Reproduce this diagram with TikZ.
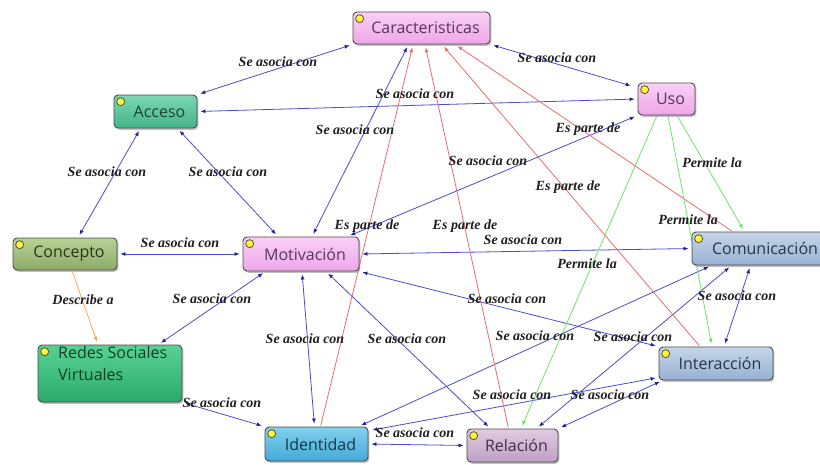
\documentclass[tikz,border=0pt]{standalone}
\usepackage{fontspec}
\setmainfont{Liberation Serif}
\newfontfamily\nodefont{Open Sans}
\usetikzlibrary{arrows.meta,shadows}
\definecolor{lblue}{RGB}{76,76,210}
\definecolor{ablue}{RGB}{35,35,150}
\definecolor{lred}{RGB}{232,110,110}
\definecolor{lgreen}{RGB}{110,228,110}
\definecolor{lorange}{RGB}{242,170,90}
\definecolor{pinkT}{HTML}{FAD0F6}
\definecolor{pinkB}{HTML}{EEA6E8}
\definecolor{pinkX}{HTML}{553660}
\definecolor{tealT}{HTML}{7CD6B4}
\definecolor{tealB}{HTML}{44B48A}
\definecolor{tealX}{HTML}{1B4434}
\definecolor{oliveT}{HTML}{B8D096}
\definecolor{oliveB}{HTML}{8CAC68}
\definecolor{oliveX}{HTML}{2A3419}
\definecolor{greenT}{HTML}{58D294}
\definecolor{greenB}{HTML}{2CAA6C}
\definecolor{greenX}{HTML}{143F24}
\definecolor{steelT}{HTML}{C6D6EB}
\definecolor{steelB}{HTML}{98B0D2}
\definecolor{steelX}{HTML}{26344A}
\definecolor{cyanT}{HTML}{82D0EE}
\definecolor{cyanB}{HTML}{44AAD6}
\definecolor{cyanX}{HTML}{14364C}
\definecolor{mauveT}{HTML}{E0CCE3}
\definecolor{mauveB}{HTML}{BEA0C4}
\definecolor{mauveX}{HTML}{442C4A}
\pgfdeclarelayer{bg}
\pgfsetlayers{bg,main}
\tikzset{
  box/.style={draw=black!70, line width=0.9pt, rounded corners=4pt, inner sep=0pt,
    font=\nodefont\fontsize{16}{22}\selectfont,
    drop shadow={shadow xshift=1.4pt,shadow yshift=-1.8pt,opacity=0.5}},
  pinkbox/.style={box, top color=pinkT, bottom color=pinkB, text=pinkX},
  tealbox/.style={box, top color=tealT, bottom color=tealB, text=tealX},
  olivebox/.style={box, top color=oliveT, bottom color=oliveB, text=oliveX},
  greenbox/.style={box, top color=greenT, bottom color=greenB, text=greenX},
  steelbox/.style={box, top color=steelT, bottom color=steelB, text=steelX},
  cyanbox/.style={box, top color=cyanT, bottom color=cyanB, text=cyanX},
  mauvebox/.style={box, top color=mauveT, bottom color=mauveB, text=mauveX},
  icon/.style={draw=black!50!olive, fill=yellow!75!white, circle, minimum size=8pt, inner sep=0pt,
    line width=0.8pt, anchor=north west},
  lab/.style={font=\fontsize{14}{14}\selectfont\bfseries\itshape, text=black!88, inner sep=0pt},
  assoc/.style={draw=lblue, line width=0.8pt, {Latex[length=5pt,width=4pt,color=ablue]}-{Latex[length=5pt,width=4pt,color=ablue]}, shorten <=3pt, shorten >=3pt},
  parte/.style={draw=lred, line width=0.8pt, -{Latex[length=5pt,width=4pt]}, shorten <=1pt, shorten >=3pt},
  permite/.style={draw=lgreen, line width=0.8pt, -{Latex[length=5pt,width=4pt]}, shorten <=1pt, shorten >=3pt},
  describe/.style={draw=lorange, line width=0.8pt, -{Latex[length=5pt,width=4pt]}, shorten <=1pt, shorten >=3pt},
}
\begin{document}
\begin{tikzpicture}[x=1pt,y=-1pt]
\useasboundingbox (0,0) rectangle (820,464);
% nodes
\node[pinkbox, minimum width=137, minimum height=32] (car) at (421.5,28) {\hspace*{8pt}Caracteristicas};
\node[pinkbox, minimum width=57, minimum height=32] (uso) at (666.5,99) {\hspace*{8pt}Uso};
\node[tealbox, minimum width=83, minimum height=33] (acc) at (155.5,111.5) {\hspace*{8pt}Acceso};
\node[olivebox, minimum width=104, minimum height=32] (con) at (65,254) {\hspace*{8pt}Concepto};
\node[pinkbox, minimum width=116, minimum height=34] (mot) at (301,254) {\hspace*{8pt}Motivación};
\node[greenbox, minimum width=144, minimum height=57] (red) at (110,373.5) {};
\node[font=\nodefont\fontsize{16}{22}\selectfont, text=greenX, align=left, anchor=north west, inner sep=0pt] (redtxt) at (58,346) {Redes Sociales\\Virtuales};
\node[cyanbox, minimum width=103, minimum height=34] (ide) at (316.5,444) {\hspace*{8pt}Identidad};
\node[mauvebox, minimum width=91, minimum height=33] (rel) at (512.5,445.5) {\hspace*{8pt}Relación};
\node[steelbox, minimum width=114, minimum height=33] (int) at (716,363.5) {\hspace*{8pt}Interacción};
\node[steelbox, minimum width=138, minimum height=33] (com) at (761,248.5) {\hspace*{8pt}Comunicación};
% icons
\foreach \n in {car,uso,acc,con,mot,red,ide,rel,int,com}{
  \node[icon] (\n-icon) at ([shift={(4,4)}]\n.north west) {};
}
% labels
\node[lab] (l1) at (278,62) {Se asocia con};
\node[lab] (l2) at (557,58) {Se asocia con};
\node[lab] (l3) at (415,94) {Se asocia con};
\node[lab] (l4) at (107,172) {Se asocia con};
\node[lab] (l5) at (228,172) {Se asocia con};
\node[lab] (l6) at (355,130) {Se asocia con};
\node[lab] (l7) at (488,161) {Se asocia con};
\node[lab] (l8) at (367,226) {Es parte de};
\node[lab] (l9) at (465,226) {Es parte de};
\node[lab] (l10) at (568,187) {Es parte de};
\node[lab] (l11) at (588,129) {Es parte de};
\node[lab] (l12) at (712,163) {Permite la};
\node[lab] (l13) at (688,220) {Permite la};
\node[lab] (l14) at (587,264) {Permite la};
\node[lab] (l15) at (83,300) {Describe a};
\node[lab] (l16) at (180,243) {Se asocia con};
\node[lab] (l17) at (523,240) {Se asocia con};
\node[lab] (l18) at (212,299) {Se asocia con};
\node[lab] (l19) at (507,299) {Se asocia con};
\node[lab] (l20) at (305,339) {Se asocia con};
\node[lab] (l21) at (407,339) {Se asocia con};
\node[lab] (l22) at (222,403) {Se asocia con};
\node[lab] (l23) at (415,433) {Se asocia con};
\node[lab] (l24) at (535,336) {Se asocia con};
\node[lab] (l25) at (633,337) {Se asocia con};
\node[lab] (l26) at (512,395) {Se asocia con};
\node[lab] (l27) at (610,395) {Se asocia con};
\node[lab] (l28) at (737,296) {Se asocia con};
\begin{pgfonlayer}{bg}
\fill[white] (0,0) rectangle (820,464);
% blue associations
\draw[assoc] (car.south west) -- (acc.north east);
\draw[assoc] (car.south east) -- ([shift={(-4,4)}]uso.north west);
\draw[assoc] (acc.east) -- (uso.west);
\draw[assoc] ([xshift=-15]acc.south) -- ([xshift=13]con.north);
\draw[assoc] ([xshift=22]acc.south) -- ([xshift=-23]mot.north);
\draw[assoc] ([xshift=-13]car.south) -- ([xshift=11]mot.north);
\draw[assoc] (uso.south west) -- ([xshift=-12]mot.north east);
\draw[assoc] (con.east) -- (mot.west);
\draw[assoc] (mot.east) -- (com.west);
\draw[assoc] ([xshift=23]mot.south west) -- ([xshift=-24]red.north east);
\draw[assoc] (mot.south east) -- (int.north west);
\draw[assoc] ([xshift=1]mot.south) -- ([xshift=-2]ide.north);
\draw[assoc] ([xshift=25]mot.south) -- ([xshift=-22]rel.north);
\draw[assoc] (red.south east) -- (ide.north west);
\draw[assoc] (ide.east) -- (rel.west);
\draw[assoc] ([xshift=-10]ide.north east) -- ([xshift=20]com.south west);
\draw[assoc] ([xshift=24]rel.north) -- ([xshift=40]com.south west);
\draw[assoc] ([shift={(1,4)}]ide.north east) -- ([shift={(0,-3)}]int.south west);
\draw[assoc] (rel.north east) -- ([shift={(4,0)}]int.south west);
\draw[assoc] ([xshift=59]com.south west) -- ([xshift=8]int.north);
% es parte de
\draw[parte] ([xshift=4]ide.north) -- ([xshift=-8.5]car.south);
\draw[parte] ([xshift=-4]rel.north) -- ([xshift=3.5]car.south);
\draw[parte] ([xshift=-16]int.north) -- ([xshift=20.5]car.south);
\draw[parte] ([xshift=41]com.north west) -- ([xshift=33.5]car.south);
% permite la
\draw[permite] ([xshift=-9.5]uso.south) -- ([xshift=8.5]rel.north);
\draw[permite] ([xshift=1.5]uso.south) -- ([xshift=-4]int.north);
\draw[permite] ([xshift=10.5]uso.south) -- ([xshift=53]com.north west);
% describe a
\draw[describe] ([xshift=7]con.south) -- ([xshift=-12]red.north);
\end{pgfonlayer}
\end{tikzpicture}
\end{document}
